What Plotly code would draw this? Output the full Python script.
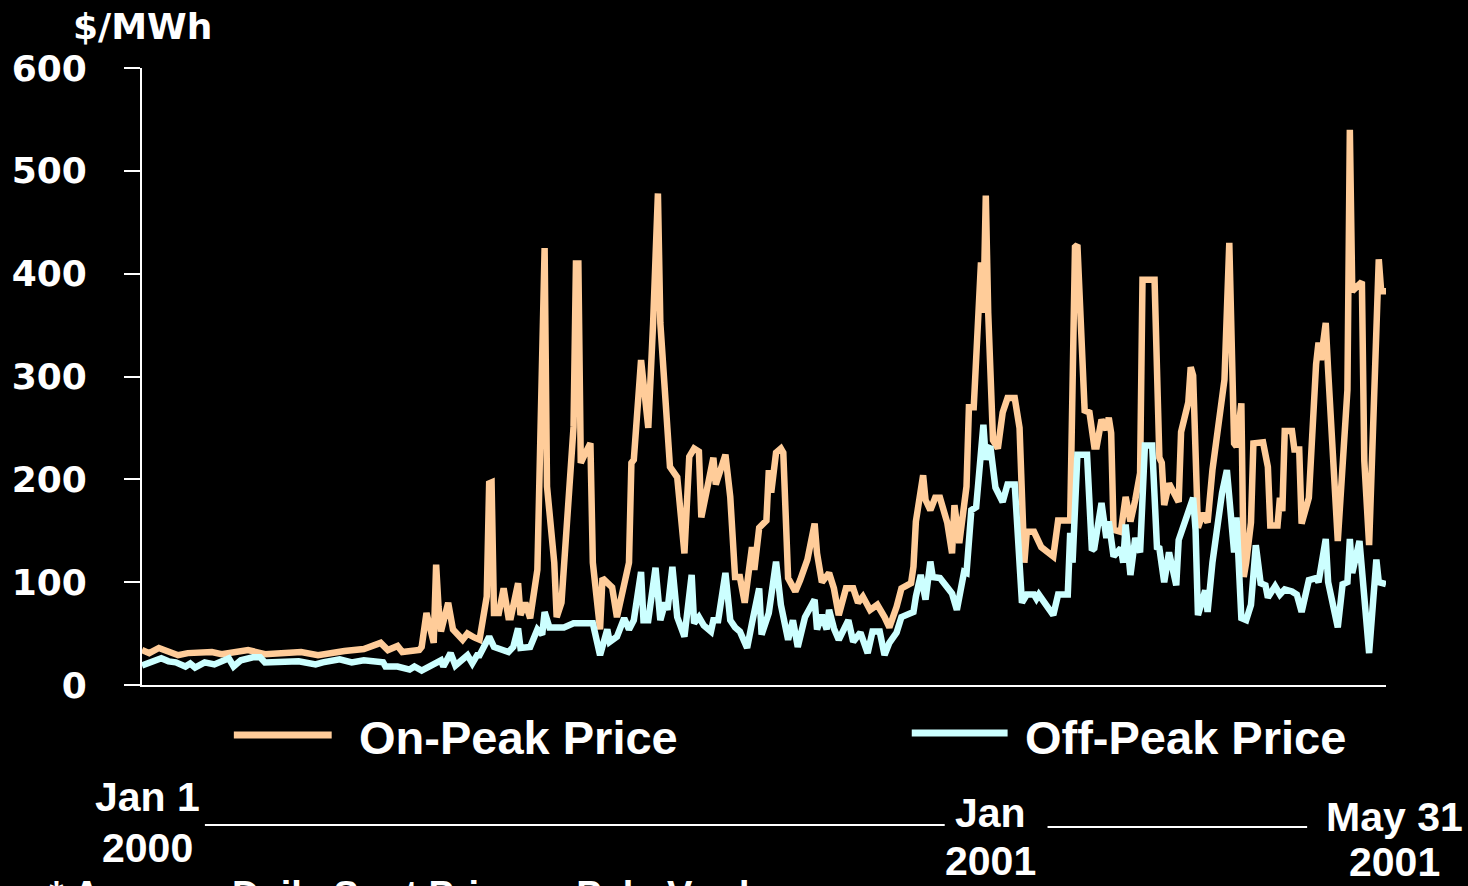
import pandas as pd
import plotly.graph_objects as go

# ---------------- data (day offset from 2000-01-01, $/MWh) ----------------
START = "2000-01-01"
END = "2001-05-31"

on_days = [0, 3, 7, 11, 15, 19, 29, 33, 37, 44, 51, 66, 73, 79, 84, 92, 99, 102, 106, 108,
           115, 116, 118, 121, 122, 123, 124, 127, 129, 133, 135, 138, 140, 143, 144, 145, 146,
           148, 150, 152, 153, 156, 157, 159, 161, 164, 165, 167, 168, 171, 172, 174, 179, 180,
           181, 182, 184, 186, 187, 190, 191, 193, 195, 197, 202, 203, 204, 207, 210, 212, 214,
           215, 217, 219, 222, 225, 227, 229, 231, 232, 237, 238, 242, 244, 246, 248, 250, 253,
           254, 256, 259, 260, 261, 263, 265, 266, 268, 271, 273, 276, 279, 280, 282, 285, 287,
           289, 292, 295, 297, 299, 302, 305, 308, 310, 313, 315, 319, 320, 321, 324, 325, 327,
           329, 331, 334, 336, 337, 339, 342, 343, 345, 348, 349, 350, 351, 353, 355, 357, 359,
           362, 364, 366, 367, 370, 373, 378, 380, 385, 387, 388, 391, 393, 395, 396, 398, 400,
           401, 402, 403, 406, 408, 410, 412, 414, 415, 420, 422, 423, 424, 426, 430, 431, 434,
           435, 436, 438, 440, 442, 444, 449, 451, 453, 454, 456, 457, 458, 460, 461, 465, 467,
           468, 471, 472, 473, 474, 477, 478, 480, 481, 484, 487, 488, 489, 491, 492, 496, 500,
           501, 502, 506, 507, 509, 513, 514, 516]
on_peak = [34, 31, 36, 32, 29, 31, 32, 30, 32, 34, 30, 32, 29, 32, 33, 35, 41, 34, 38, 32,
           34, 37, 70, 41, 117, 76, 52, 80, 54, 44, 50, 46, 44, 86, 196, 197, 70,
           70, 94, 66, 66, 99, 68, 80, 65, 112, 216, 425, 193, 119, 66, 80, 251, 410,
           410, 216, 226, 235, 119, 54, 104, 99, 95, 66, 119, 216, 219, 316, 250, 352, 478,
           352, 280, 212, 202, 128, 222, 230, 227, 163, 221, 195, 224, 183, 105, 105, 80, 134,
           112, 153, 160, 209, 187, 226, 230, 226, 104, 91, 102, 122, 157, 128, 100, 109, 94,
           68, 94, 94, 80, 86, 73, 78, 66, 56, 76, 94, 99, 115, 159, 204, 180, 170,
           182, 182, 158, 128, 175, 138, 193, 270, 270, 411, 362, 476, 362, 238, 230, 265, 279,
           279, 250, 119, 149, 149, 134, 125, 160, 160, 426, 428, 267, 265, 232, 232, 258, 248,
           260, 245, 151, 149, 183, 159, 180, 206, 394, 394, 221, 216, 175, 196, 178, 246, 275,
           309, 301, 153, 167, 158, 209, 297, 430, 235, 232, 274, 105, 119, 158, 235, 236, 212,
           155, 155, 182, 169, 247, 247, 229, 229, 157, 182, 312, 333, 316, 352, 306, 140, 287,
           540, 383, 392, 218, 136, 414, 383, 383]

off_days = [0, 3, 8, 11, 14, 18, 20, 22, 26, 30, 32, 36, 38, 41, 46, 49, 51, 55, 59, 65,
            72, 75, 82, 87, 92, 100, 101, 106, 111, 113, 116, 119, 121, 124, 125, 128, 130,
            133, 135, 137, 139, 140, 144, 146, 152, 154, 156, 157, 161, 164, 166, 167, 169,
            175, 179, 187, 190, 193, 194, 197, 200, 202, 204, 207, 208, 210, 213, 215, 217,
            218, 220, 222, 225, 228, 229, 231, 233, 236, 237, 239, 242, 244, 246, 248, 251,
            253, 256, 257, 260, 263, 265, 268, 270, 272, 275, 279, 280, 282, 284, 285, 287,
            289, 291, 293, 295, 298, 301, 303, 306, 308, 310, 313, 315, 318, 320, 321, 323,
            325, 327, 328, 331, 334, 336, 338, 341, 342, 344, 346, 349, 350, 351, 352, 354,
            357, 359, 362, 365, 367, 370, 371, 372, 378, 380, 384, 385, 386, 388, 392, 393,
            394, 395, 398, 400, 401, 403, 406, 407, 408, 410, 412, 414, 416, 419, 421, 422,
            424, 426, 429, 430, 436, 437, 438, 441, 442, 444, 448, 450, 453, 454, 456, 458,
            460, 462, 464, 466, 467, 470, 472, 474, 477, 479, 481, 484, 487, 488, 491, 492,
            496, 498, 500, 501, 502, 505, 508, 509, 512, 513, 516]
off_peak = [19, 22, 26, 23, 22, 18, 21, 17, 22, 20, 22, 26, 18, 24, 27, 27, 22, 22, 22, 23,
            20, 22, 25, 22, 24, 22, 18, 18, 15, 18, 14, 18, 19, 24, 18, 31, 19,
            26, 29, 21, 29, 29, 47, 37, 32, 37, 55, 36, 37, 54, 49, 71, 56,
            56, 60, 60, 29, 54, 42, 47, 65, 54, 63, 110, 63, 63, 114, 63, 80,
            73, 115, 66, 47, 107, 60, 66, 58, 52, 63, 63, 109, 63, 56, 52, 36,
            60, 94, 49, 70, 120, 78, 44, 63, 37, 66, 83, 54, 68, 54, 73, 55,
            44, 55, 63, 42, 51, 31, 52, 52, 29, 41, 51, 66, 70, 71, 86, 107,
            83, 120, 105, 104, 95, 89, 73, 110, 109, 170, 173, 253, 219, 231, 230, 192,
            178, 195, 195, 80, 88, 88, 84, 88, 68, 88, 88, 148, 119, 224, 224, 158,
            131, 133, 177, 143, 159, 125, 133, 119, 156, 107, 143, 129, 233, 233, 134, 133,
            100, 129, 97, 141, 182, 151, 68, 92, 71, 119, 187, 209, 129, 163, 65, 63,
            78, 136, 99, 97, 85, 96, 88, 93, 91, 88, 71, 102, 104, 100, 142, 100,
            56, 98, 100, 142, 109, 140, 54, 31, 122, 100, 98]

y_ticks = [0, 100, 200, 300, 400, 500, 600]
series_names = ["On-Peak Price", "Off-Peak Price"]
series_colors = ["#FFCC99", "#CCFFFF"]
date_labels = [("Jan 1", "2000"), ("Jan", "2001"), ("May 31", "2001")]
unit_label = "$/MWh"
footnote = "* Average Daily Spot Prices - Palo Verde"

base = pd.Timestamp(START)
on_dates = base + pd.to_timedelta(on_days, unit="D")
off_dates = base + pd.to_timedelta(off_days, unit="D")

# ---------------- figure ----------------
W, H = 1468, 886
L, R, T, B = 140, 82, 68, 201
pw, ph = W - L - R, H - T - B


def px(xpix):
    return (xpix - L) / pw


def py(ypix):
    return (H - B - ypix) / ph


fig = go.Figure()
fig.add_trace(go.Scatter(x=on_dates, y=on_peak, mode="lines", name=series_names[0],
                         line=dict(color=series_colors[0], width=6.5)))
fig.add_trace(go.Scatter(x=off_dates, y=off_peak, mode="lines", name=series_names[1],
                         line=dict(color=series_colors[1], width=6.5)))

bold = "Liberation Sans, Arial, sans-serif"
wide = "DejaVu Sans, sans-serif"

fig.update_layout(
    width=W, height=H,
    paper_bgcolor="black", plot_bgcolor="black",
    margin=dict(l=L, r=R, t=T, b=B),
    showlegend=False,
    hovermode=False,
    xaxis=dict(range=[START, END], showgrid=False, zeroline=False,
               showticklabels=False, ticks="", showline=True,
               linecolor="white", linewidth=2),
    yaxis=dict(range=[0, 600], tickvals=y_ticks, showgrid=False, zeroline=False,
               ticks="outside", ticklen=16, tickwidth=2, tickcolor="white",
               showline=True, linecolor="white", linewidth=2,
               ticklabelstandoff=30,
               tickfont=dict(family=wide, size=36, color="white", weight="bold")),
)

annotations = []
shapes = []

# unit label
annotations.append(dict(text=f"<b>{unit_label}</b>", xref="paper", yref="paper",
                        x=px(140), y=py(27), xanchor="center", yanchor="middle",
                        showarrow=False, font=dict(family=wide, size=36, color="white")))

# legend (custom, long line samples)
leg = [(232, 330, 735, 355), (911, 1007, 733, 1022)]
for (x0, x1, yy, tx), name, col in zip(leg, series_names, series_colors):
    shapes.append(dict(type="line", xref="paper", yref="paper", x0=px(x0), x1=px(x1),
                       y0=py(yy), y1=py(yy), line=dict(color=col, width=7)))
    annotations.append(dict(text=f"<b>{name}</b>", xref="paper", yref="paper",
                            x=px(tx), y=py(737), xanchor="left", yanchor="middle",
                            showarrow=False, font=dict(family=bold, size=47, color="white")))

# date labels
pos = [(146, 797, 848), (990, 813, 861), (1395, 817, 862)]
for (cx, y1, y2), (l1, l2) in zip(pos, date_labels):
    for txt, yy in ((l1, y1), (l2, y2)):
        annotations.append(dict(text=f"<b>{txt}</b>", xref="paper", yref="paper",
                                x=px(cx), y=py(yy), xanchor="center", yanchor="middle",
                                showarrow=False, font=dict(family=bold, size=41, color="white")))

# connector rules between date labels
for x0, x1, yy in [(203, 944, 825), (1047, 1307, 827)]:
    shapes.append(dict(type="line", xref="paper", yref="paper", x0=px(x0), x1=px(x1),
                       y0=py(yy), y1=py(yy), line=dict(color="white", width=2)))

# footnote (cut off at bottom, as in the source)
annotations.append(dict(text=f"<b>{footnote}</b>", xref="paper", yref="paper",
                        x=px(45), y=py(872), xanchor="left", yanchor="top",
                        showarrow=False, font=dict(family=bold, size=38, color="white")))

fig.update_layout(annotations=annotations, shapes=shapes)
fig.write_html(
    "out.html",
    config={"displayModeBar": False},
    post_script="document.body.style.margin='0';document.body.style.background='black';"
                "document.documentElement.style.background='black';",
)
